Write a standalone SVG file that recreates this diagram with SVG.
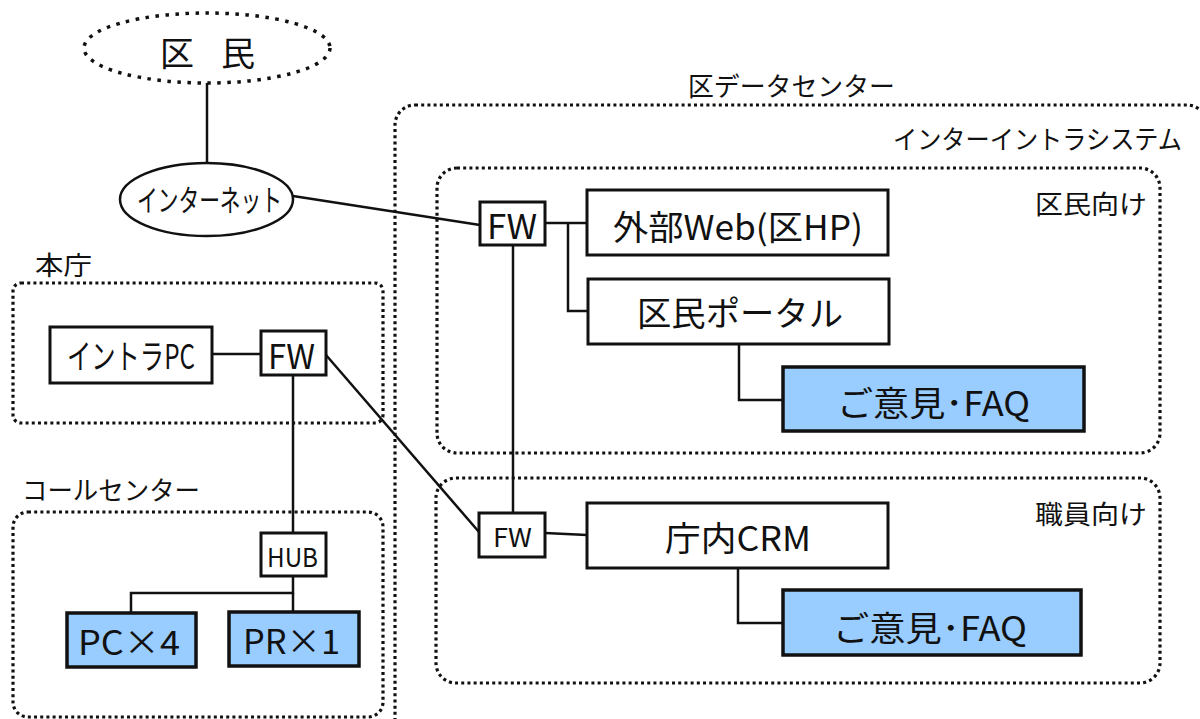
<svg xmlns="http://www.w3.org/2000/svg" width="1200" height="719" viewBox="0 0 1200 719">
<style>
text{font-family:"Noto Sans CJK JP","Noto Sans",sans-serif;fill:#111}
.dot{fill:none;stroke:#111;stroke-width:3.2;stroke-dasharray:3 3.2}
.box{fill:#fff;stroke:#111;stroke-width:3}
.blue{fill:#99CCFF;stroke:#111;stroke-width:3.5}
.ln{fill:none;stroke:#111;stroke-width:2.5}
.t32{font-size:34px}
.t24{font-size:26px}
</style>
<rect width="1200" height="719" fill="#fff"/>
<g id="containers">
<g id="datacenter"><rect class="dot" x="395" y="105" width="812" height="660" rx="20"/>
<text class="t24" x="688" y="96" textLength="207" lengthAdjust="spacingAndGlyphs">区データセンター</text>
<text class="t24" x="893" y="149" textLength="289" lengthAdjust="spacingAndGlyphs">インターイントラシステム</text></g>
<g id="kumin-muke"><rect class="dot" x="437" y="168" width="723" height="285" rx="20"/>
<text class="t24" x="1035" y="214" textLength="112" lengthAdjust="spacingAndGlyphs">区民向け</text></g>
<g id="shokuin-muke"><rect class="dot" x="436" y="478" width="724" height="205" rx="20"/>
<text class="t24" x="1035" y="524" textLength="112" lengthAdjust="spacingAndGlyphs">職員向け</text></g>
<g id="honcho"><rect class="dot" x="13" y="283" width="370" height="140" rx="8"/>
<text class="t24" x="35" y="275" textLength="57" lengthAdjust="spacingAndGlyphs">本庁</text></g>
<g id="callcenter"><rect class="dot" x="13" y="512" width="370" height="205" rx="15"/>
<text class="t24" x="22" y="500" textLength="178" lengthAdjust="spacingAndGlyphs">コールセンター</text></g>
</g>
<g id="connectors">
<line class="ln" x1="207" y1="83" x2="207" y2="163"/>
<line class="ln" x1="293" y1="196" x2="480" y2="225"/>
<line class="ln" x1="545" y1="223" x2="587" y2="223"/>
<polyline class="ln" points="568,223 568,311 588,311"/>
<line class="ln" x1="513" y1="245" x2="513" y2="513"/>
<polyline class="ln" points="739,344 739,400 783,400"/>
<line class="ln" x1="545" y1="533" x2="587" y2="535"/>
<polyline class="ln" points="738,568 738,623 783,623"/>
<line class="ln" x1="212" y1="354" x2="261" y2="354"/>
<line class="ln" x1="326" y1="355" x2="479" y2="532"/>
<line class="ln" x1="293" y1="375" x2="293" y2="533"/>
<polyline class="ln" points="293,576 293,593 131,593 131,613"/>
<line class="ln" x1="293" y1="593" x2="293" y2="612"/>
</g>
<g id="kumin"><ellipse cx="207" cy="48" rx="123" ry="35" fill="none" stroke="#111" stroke-width="3.5" stroke-dasharray="3.5 6.5"/>
<text x="160" y="66" font-size="34" textLength="95" lengthAdjust="spacing">区 民</text></g>
<g id="internet"><ellipse cx="206.5" cy="199.5" rx="86.5" ry="36.5" fill="#fff" stroke="#111" stroke-width="2.5"/>
<text x="137" y="211" font-size="30" textLength="145" lengthAdjust="spacingAndGlyphs">インターネット</text></g>
<g id="fw1"><rect class="box" x="480" y="202" width="65" height="43"/>
<text class="t32" x="487" y="239" textLength="50" lengthAdjust="spacingAndGlyphs">FW</text></g>
<g id="gaibu-web"><rect class="box" x="587" y="190" width="301" height="65"/>
<text class="t32" x="613" y="240" textLength="250" lengthAdjust="spacingAndGlyphs">外部Web(区HP)</text></g>
<g id="kumin-portal"><rect class="box" x="588" y="279" width="301" height="65"/>
<text class="t32" x="637" y="326" textLength="206" lengthAdjust="spacingAndGlyphs">区民ポータル</text></g>
<g id="goiken1"><rect class="blue" x="783" y="367" width="301" height="64"/>
<text class="t32" x="837" y="416" textLength="193" lengthAdjust="spacingAndGlyphs">ご意見･FAQ</text></g>
<g id="fw2"><rect class="box" x="479" y="513" width="66" height="44"/>
<text class="t24" x="493" y="547" textLength="39" lengthAdjust="spacingAndGlyphs">FW</text></g>
<g id="chonai-crm"><rect class="box" x="587" y="503" width="301" height="65"/>
<text class="t32" x="665" y="551" textLength="146" lengthAdjust="spacingAndGlyphs">庁内CRM</text></g>
<g id="goiken2"><rect class="blue" x="783" y="590" width="298" height="65"/>
<text class="t32" x="833" y="641" textLength="194" lengthAdjust="spacingAndGlyphs">ご意見･FAQ</text></g>
<g id="intra-pc"><rect class="box" x="50" y="327" width="162" height="56"/>
<text class="t32" x="67" y="369" textLength="128" lengthAdjust="spacingAndGlyphs">イントラPC</text></g>
<g id="fw-honcho"><rect class="box" x="261" y="331" width="65" height="44"/>
<text class="t32" x="268" y="369" textLength="47" lengthAdjust="spacingAndGlyphs">FW</text></g>
<g id="hub"><rect class="box" x="261" y="533" width="65" height="43"/>
<text class="t24" x="267" y="567" textLength="51" lengthAdjust="spacingAndGlyphs">HUB</text></g>
<g id="pc4"><rect class="blue" x="67" y="613" width="129" height="54"/>
<text class="t32" x="78" y="655" textLength="102" lengthAdjust="spacingAndGlyphs">PC×4</text></g>
<g id="pr1"><rect class="blue" x="229" y="612" width="130" height="54"/>
<text class="t32" x="243" y="654" textLength="97" lengthAdjust="spacingAndGlyphs">PR×1</text></g>
</svg>
